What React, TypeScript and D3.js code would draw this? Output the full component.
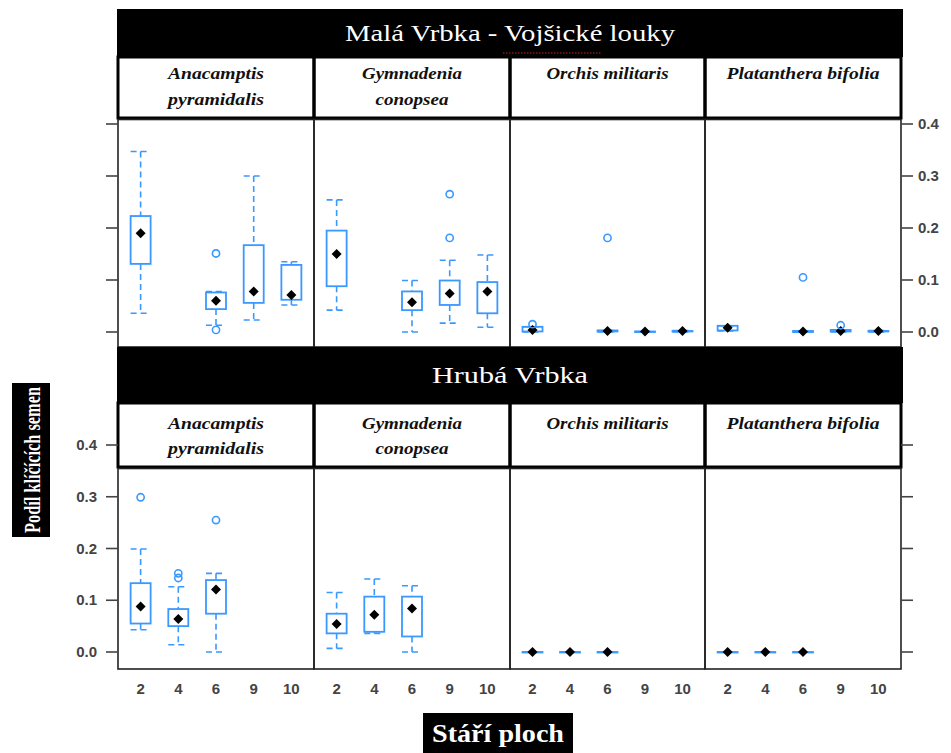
import * as d3 from "d3"

const ages = ["2", "4", "6", "9", "10"]
const sites = ["Malá Vrbka - Vojšické louky", "Hrubá Vrbka"]
const speciesLines = [["Anacamptis", "pyramidalis"], ["Gymnadenia", "conopsea"], ["Orchis militaris"], ["Platanthera bifolia"]]
const yTicks = [0, 0.1, 0.2, 0.3, 0.4]

// [lower whisker, Q1, median, Q3, upper whisker] per age; null = no sample
type Stat = [number, number, number, number, number] | null
const malaAnacamptis: Stat[] = [[0.036, 0.131, 0.19, 0.223, 0.347], null, [0.013, 0.044, 0.06, 0.076, 0.078], [0.023, 0.056, 0.078, 0.167, 0.3], [0.052, 0.062, 0.071, 0.129, 0.135]]
const malaGymnadenia: Stat[] = [[0.042, 0.088, 0.15, 0.195, 0.254], null, [0, 0.042, 0.057, 0.078, 0.099], [0.017, 0.052, 0.074, 0.099, 0.138], [0.009, 0.036, 0.078, 0.096, 0.148]]
const malaOrchis: Stat[] = [[0, 0.001, 0.004, 0.01, 0.01], null, [0, 0.001, 0.002, 0.003, 0.003], [0, 0, 0.001, 0.001, 0.001], [0, 0.001, 0.002, 0.002, 0.003]]
const malaPlatanthera: Stat[] = [[0.002, 0.003, 0.008, 0.012, 0.012], null, [0, 0, 0.001, 0.002, 0.002], [0, 0.001, 0.002, 0.004, 0.004], [0, 0.001, 0.002, 0.002, 0.003]]
const hrubaAnacamptis: Stat[] = [[0.043, 0.055, 0.088, 0.133, 0.199], [0.014, 0.05, 0.064, 0.083, 0.126], [0, 0.074, 0.121, 0.139, 0.152], null, null]
const hrubaGymnadenia: Stat[] = [[0.007, 0.036, 0.054, 0.074, 0.115], [0.036, 0.039, 0.072, 0.107, 0.141], [0, 0.03, 0.084, 0.107, 0.128], null, null]
const hrubaOrchis: Stat[] = [[0, 0, 0, 0, 0], [0, 0, 0, 0, 0], [0, 0, 0, 0, 0], null, null]
const hrubaPlatanthera: Stat[] = [[0, 0, 0, 0, 0], [0, 0, 0, 0, 0], [0, 0, 0, 0, 0], null, null]

// outliers per age
const malaAnacamptisOut = [[], [], [0.151, 0.004], [], []]
const malaGymnadeniaOut = [[], [], [], [0.265, 0.181], []]
const malaOrchisOut = [[0.015], [], [0.181], [], []]
const malaPlatantheraOut = [[], [], [0.105], [0.013], []]
const hrubaAnacamptisOut = [[0.299], [0.152, 0.143], [0.255], [], []]
const hrubaGymnadeniaOut = [[], [], [], [], []]
const hrubaOrchisOut = [[], [], [], [], []]
const hrubaPlatantheraOut = [[], [], [], [], []]

const siteStats = [
  [malaAnacamptis, malaGymnadenia, malaOrchis, malaPlatanthera],
  [hrubaAnacamptis, hrubaGymnadenia, hrubaOrchis, hrubaPlatanthera],
]
const siteOutliers = [
  [malaAnacamptisOut, malaGymnadeniaOut, malaOrchisOut, malaPlatantheraOut],
  [hrubaAnacamptisOut, hrubaGymnadeniaOut, hrubaOrchisOut, hrubaPlatantheraOut],
]

const blue = "#3a98ff"
const cols = [118, 314, 510, 705, 901]
// text widths of the species strip labels, as in the picture
const stripWidths = [[96, 96], [100, 73], [122], [153]]
// layout of the two rows
const rows = [
  { titleTop: 9, titleBottom: 57, stripBottom: 118, panelBottom: 347, zero: 332, four: 124, line1: 79, line2: 105 },
  { titleTop: 347, titleBottom: 403, stripBottom: 467, panelBottom: 669, zero: 652, four: 445, line1: 429, line2: 454 },
]

function Box({ x, y, s }: { x: number; y: d3.ScaleLinear<number, number>; s: [number, number, number, number, number] }) {
  const [lo, q1, med, q3, hi] = s
  const hw = 10
  const d = 5
  return (
    <g>
      <line x1={x} x2={x} y1={y(hi)} y2={y(q3)} stroke={blue} strokeWidth={1.6} strokeDasharray="6,4" />
      <line x1={x} x2={x} y1={y(q1)} y2={y(lo)} stroke={blue} strokeWidth={1.6} strokeDasharray="6,4" />
      <line x1={x - hw} x2={x + hw} y1={y(hi)} y2={y(hi)} stroke={blue} strokeWidth={1.6} strokeDasharray="6,4" />
      <line x1={x - hw} x2={x + hw} y1={y(lo)} y2={y(lo)} stroke={blue} strokeWidth={1.6} strokeDasharray="6,4" />
      <rect x={x - hw} y={y(q3)} width={hw * 2} height={Math.max(0.5, y(q1) - y(q3))} fill="none" stroke={blue} strokeWidth={1.8} />
      <path d={`M${x},${y(med) - d}L${x + d},${y(med)}L${x},${y(med) + d}L${x - d},${y(med)}Z`} fill="black" />
    </g>
  )
}

export default function App() {
  const tickFont = { fontFamily: "Liberation Sans, Arial, sans-serif", fontSize: 15, fontWeight: 700, fill: "#444" }
  const stripFont = { fontFamily: "Liberation Serif, serif", fontStyle: "italic", fontWeight: 700, fontSize: 17, fill: "#111" }

  return (
    <svg width={951} height={753} style={{ position: "absolute", left: 0, top: 0, background: "white" }}>
      {rows.map((r, ri) => {
        const y = d3.scaleLinear().domain([0, 0.4]).range([r.zero, r.four])
        return (
          <g key={ri}>
            {/* site strip */}
            <rect x={cols[0] - 1} y={r.titleTop} width={cols[4] - cols[0] + 3} height={r.titleBottom - r.titleTop} fill="black" />
            <text x={510} y={(r.titleTop + r.titleBottom) / 2 + 8} textAnchor="middle" fill="white"
              style={{ fontFamily: "Liberation Serif, serif", fontSize: 24 }}
              textLength={ri === 0 ? 330 : 156} lengthAdjust="spacingAndGlyphs">{sites[ri]}</text>
            {ri === 0 && (
              <line x1={503} x2={602} y1={r.titleBottom - 4} y2={r.titleBottom - 4} stroke="#d02020" strokeWidth={1.2} strokeDasharray="1.5,1.5" />
            )}

            {/* species strips */}
            {speciesLines.map((lines, ci) => (
              <g key={ci}>
                <rect x={cols[ci]} y={r.titleBottom} width={cols[ci + 1] - cols[ci]} height={r.stripBottom - r.titleBottom} fill="white" />
                {lines.map((t, li) => (
                  <text key={li} x={(cols[ci] + cols[ci + 1]) / 2} y={li === 0 ? r.line1 : r.line2} textAnchor="middle" style={stripFont}
                    textLength={stripWidths[ci][li]} lengthAdjust="spacingAndGlyphs">{t}</text>
                ))}
              </g>
            ))}
            {speciesLines.map((_, ci) => (
              <rect key={ci} x={cols[ci]} y={r.titleBottom} width={cols[ci + 1] - cols[ci]} height={r.stripBottom - r.titleBottom}
                fill="none" stroke="black" strokeWidth={3} />
            ))}

            {/* panels */}
            {speciesLines.map((_, ci) => {
              const x = d3.scalePoint<string>().domain(ages).range([cols[ci], cols[ci + 1]]).padding(0.6)
              const stats = siteStats[ri][ci]
              const outs = siteOutliers[ri][ci]
              return (
                <g key={ci}>
                  <rect x={cols[ci]} y={r.stripBottom + 1.5} width={cols[ci + 1] - cols[ci]} height={r.panelBottom - r.stripBottom - 1.5}
                    fill="none" stroke="#222" strokeWidth={1.6} />
                  {stats.map((s, ai) => s && <Box key={ai} x={x(ages[ai]) as number} y={y} s={s} />)}
                  {outs.map((o, ai) => o.map((v, k) => (
                    <circle key={`${ai}-${k}`} cx={x(ages[ai]) as number} cy={y(v)} r={3.6} fill="none" stroke={blue} strokeWidth={1.6} />
                  )))}
                  {ri === 1 && ages.map((a) => (
                    <text key={a} x={x(a) as number} y={694} textAnchor="middle" style={tickFont}>{a}</text>
                  ))}
                </g>
              )
            })}

            {/* y axis ticks */}
            {yTicks.map((t) => (
              <g key={t}>
                <line x1={cols[0] - 12} x2={cols[0]} y1={y(t)} y2={y(t)} stroke="#444" strokeWidth={1.6} />
                <line x1={cols[4]} x2={cols[4] + 12} y1={y(t)} y2={y(t)} stroke="#444" strokeWidth={1.6} />
                {ri === 1 && <text x={97} y={y(t) + 5} textAnchor="end" style={tickFont}>{t.toFixed(1)}</text>}
                {ri === 0 && <text x={918} y={y(t) + 5} textAnchor="start" style={tickFont}>{t.toFixed(1)}</text>}
              </g>
            ))}
          </g>
        )
      })}

      {/* axis titles */}
      <rect x={12} y={383} width={38} height={154} fill="black" />
      <text transform="translate(40,460) rotate(-90)" textAnchor="middle" fill="white"
        style={{ fontFamily: "Liberation Serif, serif", fontWeight: 700, fontSize: 24 }}
        textLength={146} lengthAdjust="spacingAndGlyphs">Podíl klíčících semen</text>
      <rect x={423} y={713} width={150} height={40} fill="black" />
      <text x={498} y={742} textAnchor="middle" fill="white"
        style={{ fontFamily: "Liberation Serif, serif", fontWeight: 700, fontSize: 25 }}
        textLength={132} lengthAdjust="spacingAndGlyphs">Stáří ploch</text>
    </svg>
  )
}
